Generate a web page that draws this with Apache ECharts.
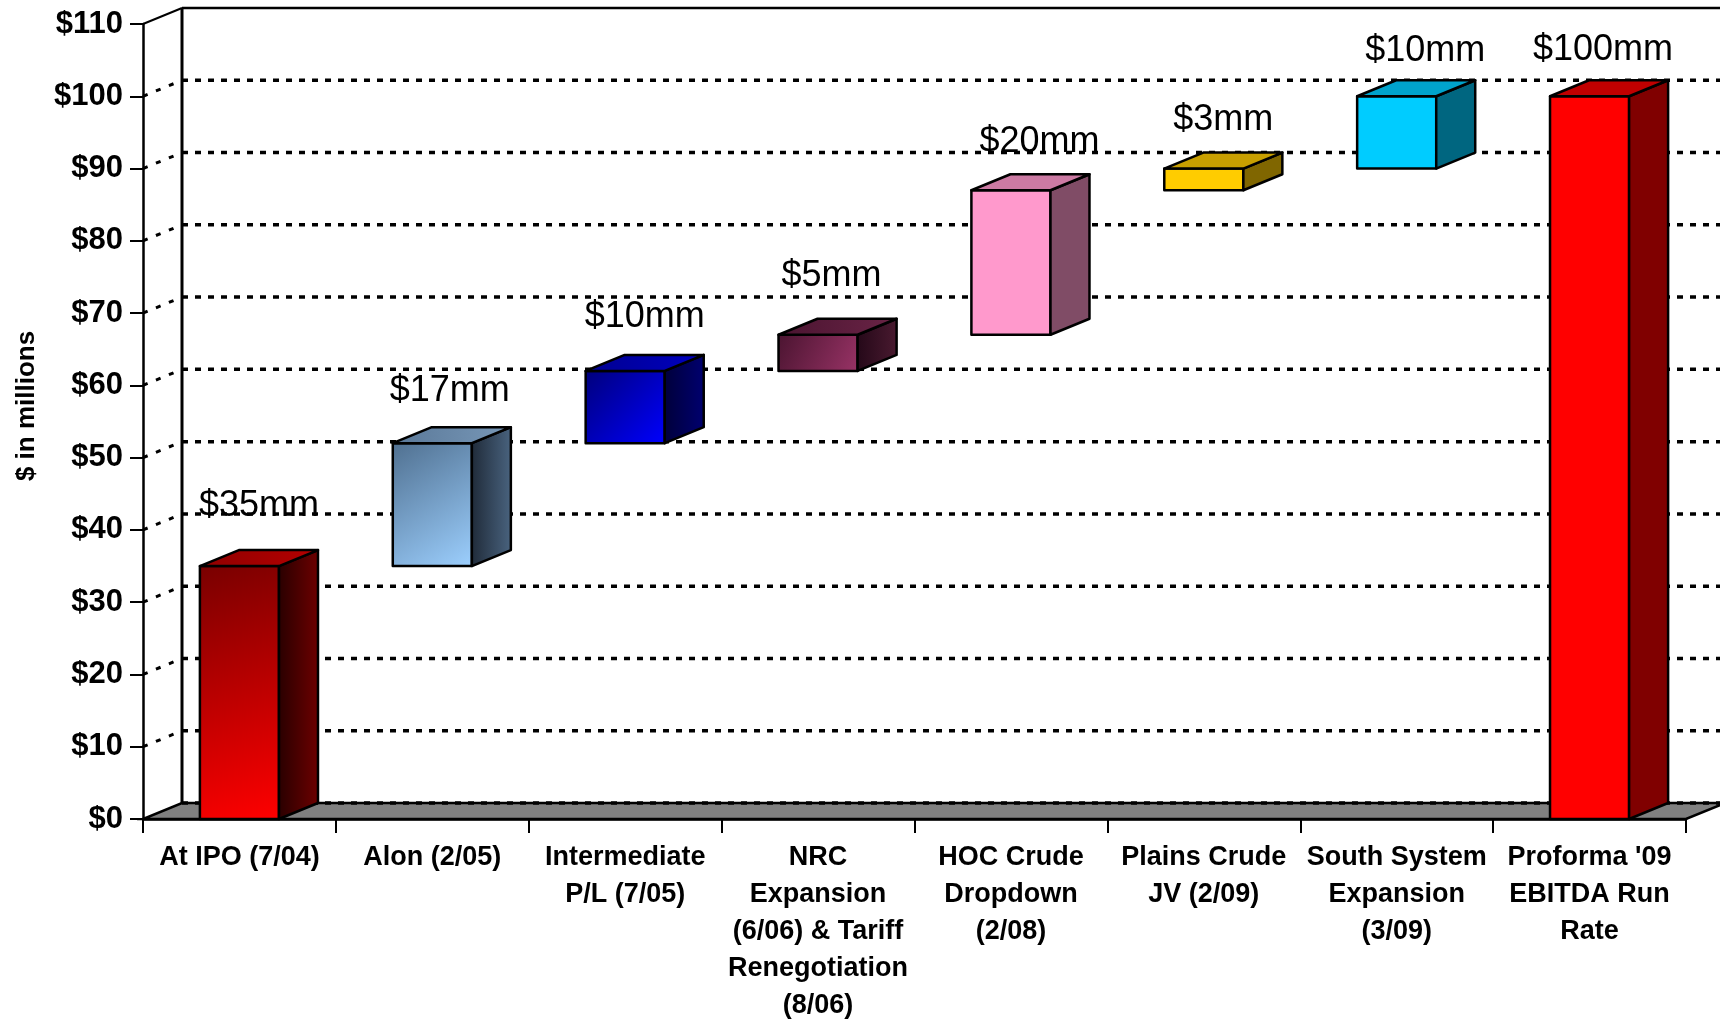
<!DOCTYPE html>
<html>
<head>
<meta charset="utf-8">
<script src="https://cdn.jsdelivr.net/npm/echarts@6/dist/echarts.min.js"></script>
<style>
  html, body { margin: 0; padding: 0; background: #fff; }
  #chart { width: 1720px; height: 1024px; }
</style>
</head>
<body>
<div id="chart"></div>
<script>
// ---- data ----
const categories = [
  'At IPO (7/04)',
  'Alon (2/05)',
  'Intermediate\nP/L (7/05)',
  'NRC\nExpansion\n(6/06) & Tariff\nRenegotiation\n(8/06)',
  'HOC Crude\nDropdown\n(2/08)',
  'Plains Crude\nJV (2/09)',
  'South System\nExpansion\n(3/09)',
  "Proforma '09\nEBITDA Run\nRate"
];
const baseValues = [0, 35, 52, 62, 67, 87, 90, 0];
const stepValues = [35, 17, 10, 5, 20, 3, 10, 100];
const valueLabels = ['$35mm', '$17mm', '$10mm', '$5mm', '$20mm', '$3mm', '$10mm', '$100mm'];
const yTicks = [0, 10, 20, 30, 40, 50, 60, 70, 80, 90, 100, 110];
const yTickLabels = ['$0', '$10', '$20', '$30', '$40', '$50', '$60', '$70', '$80', '$90', '$100', '$110'];
const yAxisTitle = '$ in millions';

// ---- styles ----
const FONT = '"Liberation Sans", Arial, sans-serif';
const DX = 39, DY = -16;
const LABEL_GAP = 36;
// small manual nudges (px) of the value labels, as placed in the original
const labelNudgeX = [0, -2, 0, -6, 9, 0, 9, -6];
const labelNudgeY = [-8, 0, -2, -7, 4, 4, 7, 6];
function lg(c1, c2) {
  return { type: 'linear', x: 0, y: 0, x2: 1, y2: 1, colorStops: [{ offset: 0, color: c1 }, { offset: 1, color: c2 }] };
}
function lh(c1, c2) {
  return { type: 'linear', x: 0, y: 0, x2: 1, y2: 0, colorStops: [{ offset: 0, color: c1 }, { offset: 1, color: c2 }] };
}
const faceStyles = [
  { front: lg('#780000', '#ff0000'), side: lh('#280000', '#6e0000'), top: lh('#900000', '#b40000') },
  { front: lg('#4f6f8f', '#9dd0ff'), side: lh('#1f2a38', '#4a6480'), top: lh('#5a7898', '#7898b8') },
  { front: lg('#00007a', '#0000ff'), side: lh('#00003a', '#000070'), top: lh('#000090', '#0000c0') },
  { front: lg('#4a1430', '#993366'), side: lh('#240818', '#4a1a30'), top: lh('#4a1430', '#6a2446') },
  { front: '#ff99cc', side: '#804c66', top: '#cc7aa3' },
  { front: '#ffcc00', side: '#806600', top: '#c89f00' },
  { front: '#00ccff', side: '#006680', top: '#00a3cc' },
  { front: '#ff0000', side: '#800000', top: '#c00000' }
];

const barData = categories.map((c, i) => [i, baseValues[i], baseValues[i] + stepValues[i]]);

function renderWalls(params, api) {
  const cs = params.coordSys;
  const x0 = cs.x, x1 = cs.x + cs.width;
  const y0 = api.coord([0, yTicks[0]])[1];
  const yTop = api.coord([0, yTicks[yTicks.length - 1]])[1];
  const children = [];
  children.push({
    type: 'polygon',
    shape: { points: [[x0, y0], [x1, y0], [x1 + DX, y0 + DY], [x0 + DX, y0 + DY]] },
    style: { fill: '#808080', stroke: '#000', lineWidth: 2.5 }
  });
  yTicks.forEach((v, k) => {
    const y = api.coord([0, v])[1];
    const last = k === yTicks.length - 1;
    children.push({
      type: 'line',
      shape: { x1: x0 + DX, y1: y + DY, x2: x1 + DX + 10, y2: y + DY },
      style: { stroke: '#000', lineWidth: last ? 2.5 : 3.5, lineDash: last ? null : [6, 7] }
    });
    if (k > 0) {
      children.push({
        type: 'line',
        shape: { x1: x0, y1: y, x2: x0 + DX, y2: y + DY },
        style: { stroke: '#000', lineWidth: last ? 2 : 3, lineDash: last ? null : [5, 9] }
      });
    }
  });
  children.push({
    type: 'line',
    shape: { x1: x0 + DX, y1: yTop + DY, x2: x0 + DX, y2: y0 + DY },
    style: { stroke: '#000', lineWidth: 3 }
  });
  return { type: 'group', children: children };
}

function renderBar(params, api) {
  const i = params.dataIndex;
  const idx = api.value(0);
  const pTop = api.coord([idx, api.value(2)]);
  const pBase = api.coord([idx, api.value(1)]);
  const w = api.size([1, 0])[0] * 0.41;
  const xl = pTop[0] - w / 2, xr = pTop[0] + w / 2;
  const yt = pTop[1], yb = pBase[1];
  const fs = faceStyles[i];
  const stroke = { stroke: '#000', lineWidth: 2.5, lineJoin: 'round' };
  return {
    type: 'group',
    children: [
      { type: 'polygon', shape: { points: [[xl, yt], [xr, yt], [xr, yb], [xl, yb]] }, style: Object.assign({ fill: fs.front }, stroke) },
      { type: 'polygon', shape: { points: [[xr, yt], [xr + DX, yt + DY], [xr + DX, yb + DY], [xr, yb]] }, style: Object.assign({ fill: fs.side }, stroke) },
      { type: 'polygon', shape: { points: [[xl, yt], [xl + DX, yt + DY], [xr + DX, yt + DY], [xr, yt]] }, style: Object.assign({ fill: fs.top }, stroke) },
      { type: 'text', x: pTop[0] + DX / 2 + labelNudgeX[i], y: yt + DY - LABEL_GAP + labelNudgeY[i], z2: 10,
        style: { text: valueLabels[i], font: '36px ' + FONT, fill: '#000', textAlign: 'center', textVerticalAlign: 'middle' } }
    ]
  };
}

const chart = echarts.init(document.getElementById('chart'), null, { renderer: 'canvas' });
chart.setOption({
  backgroundColor: '#ffffff',
  animation: false,
  grid: { left: 143, top: 24, right: 34, bottom: 201, containLabel: false },
  xAxis: {
    type: 'category',
    data: categories,
    boundaryGap: true,
    axisLine: { show: true, lineStyle: { color: '#000', width: 2.5 } },
    axisTick: { show: true, length: 14, lineStyle: { color: '#000', width: 2 } },
    axisLabel: { interval: 0, margin: 20, fontFamily: FONT, fontWeight: 'bold', fontSize: 27, lineHeight: 37, color: '#000' },
    splitLine: { show: false }
  },
  yAxis: {
    type: 'value',
    min: yTicks[0],
    max: yTicks[yTicks.length - 1],
    interval: yTicks[1] - yTicks[0],
    axisLine: { show: true, lineStyle: { color: '#000', width: 2.5 } },
    axisTick: { show: true, length: 13, lineStyle: { color: '#000', width: 2 } },
    axisLabel: {
      margin: 20, fontFamily: FONT, fontWeight: 'bold', fontSize: 31, color: '#000',
      formatter: function (v) { const k = yTicks.indexOf(v); return k >= 0 ? yTickLabels[k] : ''; }
    },
    splitLine: { show: false }
  },
  graphic: [{
    type: 'text', x: 27, y: 406, rotation: Math.PI / 2,
    style: { text: yAxisTitle, font: 'bold 26px ' + FONT, fill: '#000', textAlign: 'center', textVerticalAlign: 'middle' }
  }],
  series: [
    { type: 'custom', z: 1, silent: true, renderItem: renderWalls, data: [[0, 0]], clip: false },
    { type: 'custom', z: 3, renderItem: renderBar, data: barData, encode: { x: 0, y: [1, 2] }, clip: false }
  ]
});
</script>
</body>
</html>
